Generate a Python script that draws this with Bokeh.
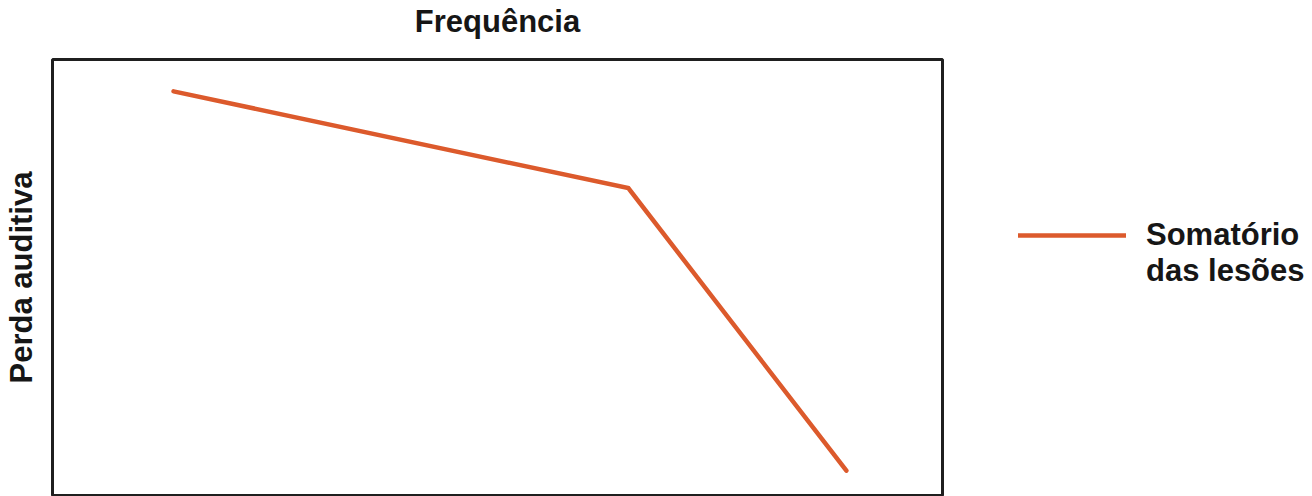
from bokeh.plotting import figure
from bokeh.models import Legend, LegendItem, FixedTicker, LinearAxis, Range1d
from bokeh.embed import file_html
from bokeh.resources import INLINE

# data (relative units)
freq = [13.6, 64.7, 89.2]
perda = [92.7, 70.5, 5.7]
series_lines = ["Somatório", "das lesões"]
title_text = "Frequência"
ylabel_text = "Perda auditiva"

FONT = "Liberation Sans"
ORANGE = "#DC5A2C"
FS = "31px"
TXT = "#161616"

p = figure(frame_width=890, frame_height=436, output_backend="svg", toolbar_location=None,
           x_range=Range1d(0, 100), y_range=Range1d(0, 100),
           min_border_left=52, min_border_right=368, min_border_top=58, min_border_bottom=1)
p.title = None
p.grid.visible = False
p.xaxis.visible = False


def style_label_axis(ax, label, standoff):
    ax.ticker = FixedTicker(ticks=[])
    ax.axis_line_color = None
    ax.major_tick_line_color = None
    ax.minor_tick_line_color = None
    ax.axis_label = label
    ax.axis_label_text_font = FONT
    ax.axis_label_text_font_size = FS
    ax.axis_label_text_font_style = "bold"
    ax.axis_label_text_color = TXT
    ax.axis_label_standoff = standoff


style_label_axis(p.yaxis[0], ylabel_text, 14)
top_axis = LinearAxis()
style_label_axis(top_axis, title_text, 21)
p.add_layout(top_axis, "above")

p.outline_line_color = "#1f1f1f"
p.outline_line_width = 3
p.background_fill_color = "white"
p.border_fill_color = "white"

r = p.line(freq, perda, line_color=ORANGE, line_width=4.5, line_join="miter", line_cap="round")
# invisible twin used only to carry the second legend text line
r2 = p.line(freq, perda, line_alpha=0)

legend = Legend(items=[LegendItem(label=series_lines[0], renderers=[r]),
                       LegendItem(label=series_lines[1], renderers=[r2])],
                location=(76, 206), orientation="vertical",
                glyph_width=108, glyph_height=20, label_standoff=20, spacing=0,
                label_text_font=FONT, label_text_font_size=FS,
                label_text_font_style="bold", label_text_color=TXT,
                border_line_color=None, background_fill_alpha=0,
                margin=0, padding=0)
p.add_layout(legend, "right")

open("out.html", "w").write(file_html(p, INLINE))
